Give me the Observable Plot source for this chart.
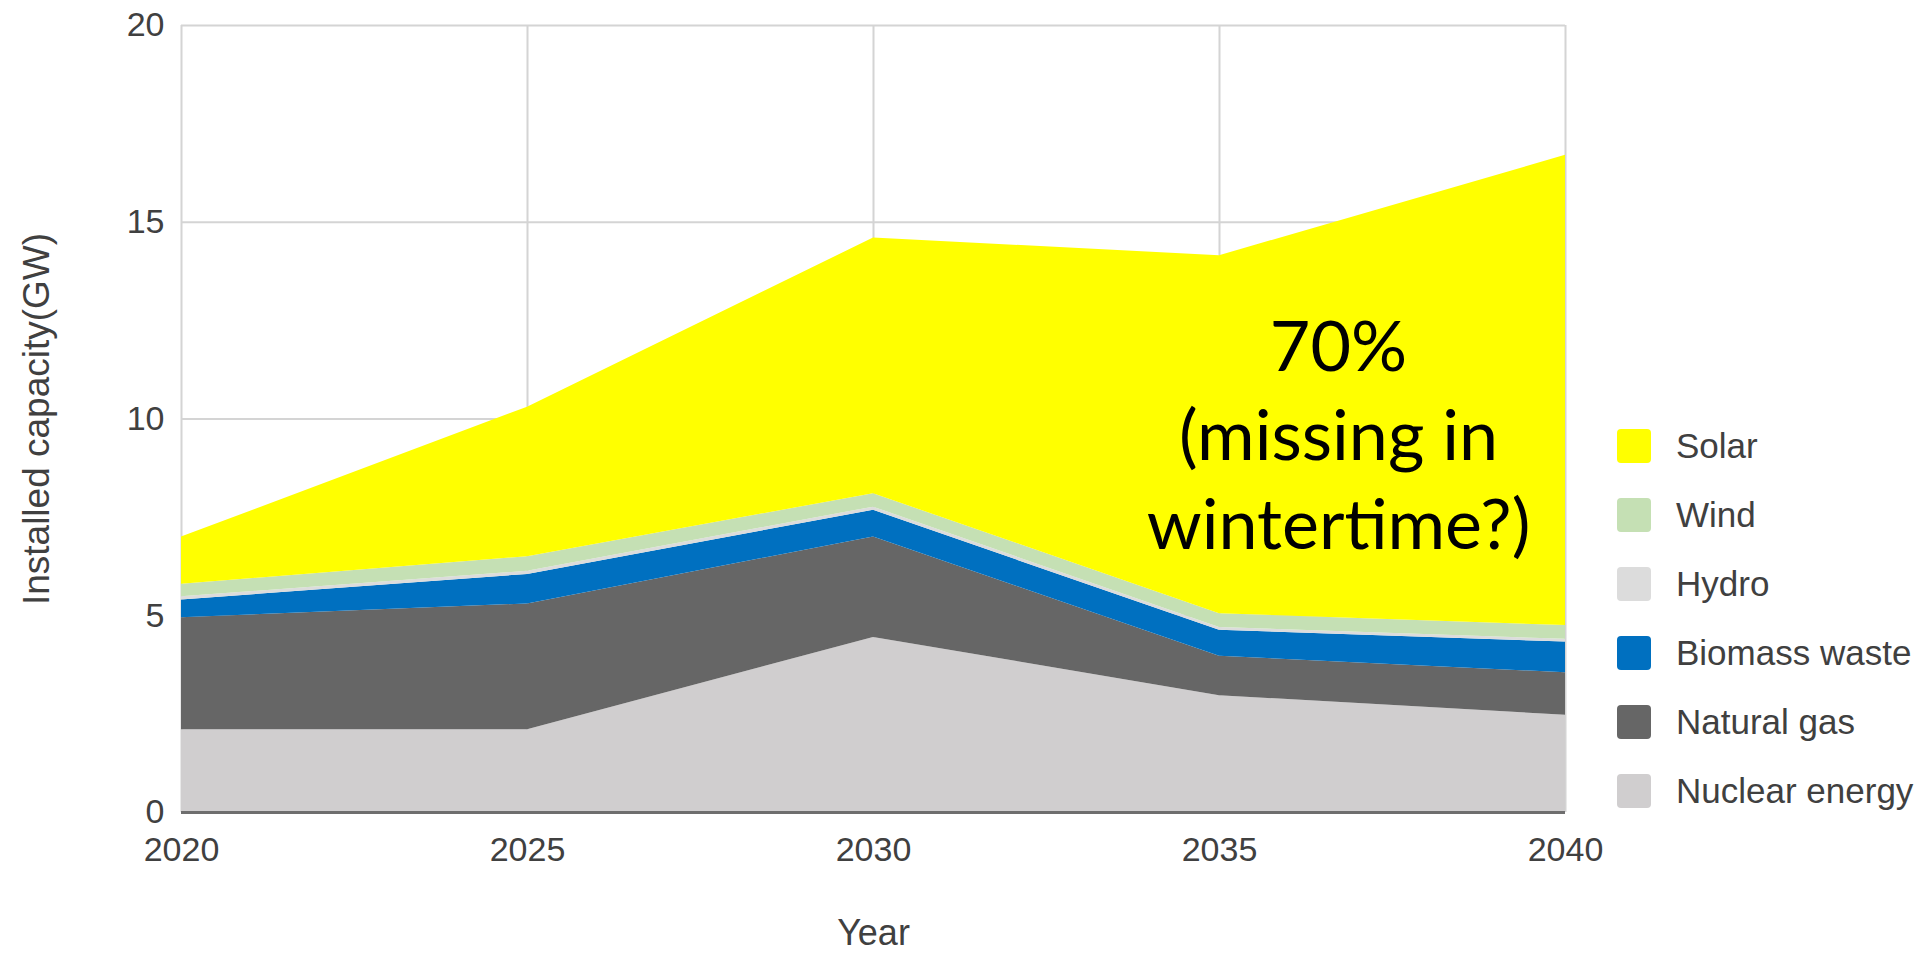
<!DOCTYPE html>
<html>
<head>
<meta charset="utf-8">
<script src="https://cdn.jsdelivr.net/npm/d3@7"></script>
<script src="https://cdn.jsdelivr.net/npm/@observablehq/plot@0.6"></script>
<style>
  html, body { margin: 0; padding: 0; background: #fff; }
  #wrap { position: relative; width: 1929px; height: 956px; }
  #wrap svg { display: block; }
  #legend { position: absolute; left: 1617px; top: 429px; font-family: 'Liberation Sans', Arial, sans-serif; font-size: 35px; color: #404040; }
  .item { display: flex; align-items: center; height: 34px; margin-bottom: 35px; white-space: nowrap; }
  .sw { width: 34px; height: 34px; border-radius: 4px; margin-right: 25px; flex: none; }
</style>
</head>
<body>
<div id="wrap"><div id="legend"></div></div>
<script>
// ---- data ----
const years = [2020, 2025, 2030, 2035, 2040];
const seriesNames = ["Nuclear energy", "Natural gas", "Biomass waste", "Hydro", "Wind", "Solar"];
const nuclear = [2.1, 2.1, 4.45, 2.97, 2.47];
const naturalGas = [2.85, 3.2, 2.55, 1.0, 1.08];
const biomassWaste = [0.45, 0.75, 0.68, 0.66, 0.78];
const hydro = [0.08, 0.08, 0.08, 0.07, 0.07];
const wind = [0.32, 0.37, 0.34, 0.35, 0.35];
const solar = [1.2, 3.8, 6.5, 9.1, 11.95];
const xTicks = [2020, 2025, 2030, 2035, 2040];
const yTicks = [0, 5, 10, 15, 20];
const annotationText = ["70%\n(missing in\nwintertime?)"];
const annotationX = [2036.72];
const annotationY = [9.68];

// ---- styles ----
const seriesColors = ["#d0cecf", "#666666", "#0070c0", "#dcdcdc", "#c5e0b4", "#ffff00"];

const seriesValues = [nuclear, naturalGas, biomassWaste, hydro, wind, solar];
const rows = [];
seriesNames.forEach((name, i) => {
  years.forEach((yr, j) => rows.push({year: yr, series: name, value: seriesValues[i][j]}));
});

const chart = Plot.plot({
  width: 1929,
  height: 956,
  marginLeft: 181,
  marginRight: 364,
  marginTop: 25,
  marginBottom: 144,
  style: {fontFamily: "'Liberation Sans', Arial, sans-serif", fontSize: "34px", color: "#404040", background: "#fff"},
  x: {domain: [2020, 2040], label: null},
  y: {domain: [0, 20], label: null},
  color: {domain: seriesNames, range: seriesColors},
  marks: [
    Plot.gridX(xTicks, {stroke: "#d4d4d4", strokeOpacity: 1, strokeWidth: 2}),
    Plot.gridY(yTicks, {stroke: "#d4d4d4", strokeOpacity: 1, strokeWidth: 2}),
    Plot.areaY(rows, {x: "year", y: "value", fill: "series", order: seriesNames, fillOpacity: 1}),
    Plot.ruleY([0], {stroke: "#6e6e6e", strokeWidth: 3}),
    Plot.axisX(xTicks, {tickSize: 0, tickPadding: 24, tickFormat: d => String(d), fontSize: 34, label: null}),
    Plot.axisY(yTicks, {tickSize: 0, tickPadding: 17, fontSize: 34, label: null}),
    Plot.text(["Year"], {frameAnchor: "bottom", dy: 121, textAnchor: "middle", lineAnchor: "middle", fontSize: 36, fill: "#404040"}),
    Plot.text(["Installed capacity(GW)"], {frameAnchor: "left", dx: -144, rotate: -90, textAnchor: "middle", lineAnchor: "middle", fontSize: 37, fill: "#404040"}),
    Plot.text(annotationText, {x: annotationX, y: annotationY, text: d => d, fontFamily: "Lato, 'Open Sans', sans-serif", fontSize: 70, lineHeight: 1.27, fill: "#000"})
  ]
});
document.getElementById("wrap").prepend(chart);

// legend (top to bottom: Solar ... Nuclear energy)
const legend = document.getElementById("legend");
const legendOrder = seriesNames.slice().reverse();
const legendColors = seriesColors.slice().reverse();
legendOrder.forEach((name, i) => {
  const it = document.createElement("div");
  it.className = "item";
  const sw = document.createElement("div");
  sw.className = "sw";
  sw.style.background = legendColors[i];
  const lb = document.createElement("span");
  lb.textContent = name;
  it.appendChild(sw);
  it.appendChild(lb);
  legend.appendChild(it);
});
</script>
</body>
</html>
